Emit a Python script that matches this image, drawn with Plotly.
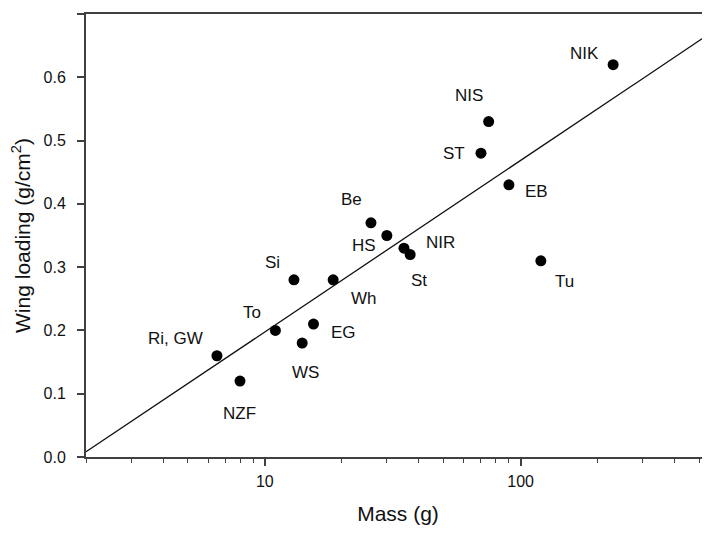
import numpy as np
import plotly.graph_objects as go

# ---- data ----
labels = ["NIK", "NIS", "ST", "EB", "Tu", "Be", "HS", "NIR", "St", "Si",
          "Wh", "To", "EG", "WS", "Ri, GW", "NZF"]
mass_g = [230, 75, 70, 90, 120, 26, 30, 35, 37, 13,
          18.5, 11, 15.5, 14, 6.5, 8.0]
wing_loading = [0.62, 0.53, 0.48, 0.43, 0.31, 0.37, 0.35, 0.33, 0.32, 0.28,
                0.28, 0.20, 0.21, 0.18, 0.16, 0.12]

# regression: wing_loading = intercept + slope * log10(mass)
reg_intercept = -0.0734
reg_slope = 0.271
x_range = [2.0, 550.0]

y_tickvals = [0.0, 0.1, 0.2, 0.3, 0.4, 0.5, 0.6, 0.7]
x_tickvals = [10, 100]

# label offsets in screen pixels (dx right, dy down)
label_dx = [-29, -20, -27, 28, 24, -19, -23, 37, 9, -21, 31, -23, 30, 3, -41, -1]
label_dy = [-11, -26, 0, 7, 21, -23, 10, -6, 26, -17, 19, -18, 8, 29, -17, 32]

FONT = "Liberation Sans, Arial, Helvetica, sans-serif"
AXIS_COLOR = "#404040"

line_x = np.logspace(np.log10(x_range[0]), np.log10(x_range[1]), 200)
line_y = reg_intercept + reg_slope * np.log10(line_x)

fig = go.Figure()
fig.add_trace(go.Scatter(x=line_x, y=line_y, mode="lines",
                         line=dict(color="#111111", width=1.3),
                         hoverinfo="skip", showlegend=False))
fig.add_trace(go.Scatter(x=mass_g, y=wing_loading, mode="markers",
                         marker=dict(color="black", size=11),
                         text=labels, showlegend=False))

for lab, xv, yv, dx, dy in zip(labels, mass_g, wing_loading, label_dx, label_dy):
    fig.add_annotation(x=np.log10(xv), y=yv, text=lab, showarrow=False,
                       xshift=dx, yshift=-dy,
                       font=dict(family=FONT, size=17, color="#111111"))

# the page body has an 8px default margin, so the figure is sized to fit the window
fig.update_layout(
    width=702, height=526,
    margin=dict(l=78, r=0, t=6, b=77),
    paper_bgcolor="white", plot_bgcolor="white",
    font=dict(family=FONT, size=16, color="#111111"),
    xaxis=dict(
        type="log",
        range=[np.log10(x_range[0]), np.log10(x_range[1])],
        tickvals=x_tickvals, ticktext=[str(v) for v in x_tickvals],
        ticks="outside", ticklen=7, tickwidth=1.5, tickcolor=AXIS_COLOR,
        ticklabelstandoff=2,
        minor=dict(ticks="outside", ticklen=4, tickwidth=1.2, tickcolor=AXIS_COLOR,
                   dtick="D1", showgrid=False),
        showline=True, linecolor=AXIS_COLOR, linewidth=2, mirror=True,
        showgrid=False, zeroline=False,
        title=dict(text="Mass (g)", font=dict(family=FONT, size=21), standoff=17),
        tickfont=dict(family=FONT, size=16, color="#111111"),
    ),
    yaxis=dict(
        range=[0, 0.7],
        tickvals=y_tickvals, tickformat=".1f",
        ticks="outside", ticklen=7, tickwidth=1.5, tickcolor=AXIS_COLOR,
        ticklabelstandoff=8,
        showline=True, linecolor=AXIS_COLOR, linewidth=2,
        showgrid=False, zeroline=False,
        title=dict(text="Wing loading (g/cm<sup>2</sup>)", font=dict(family=FONT, size=21),
                   standoff=11),
        tickfont=dict(family=FONT, size=16, color="#111111"),
    ),
)

fig.write_html("out.html")
